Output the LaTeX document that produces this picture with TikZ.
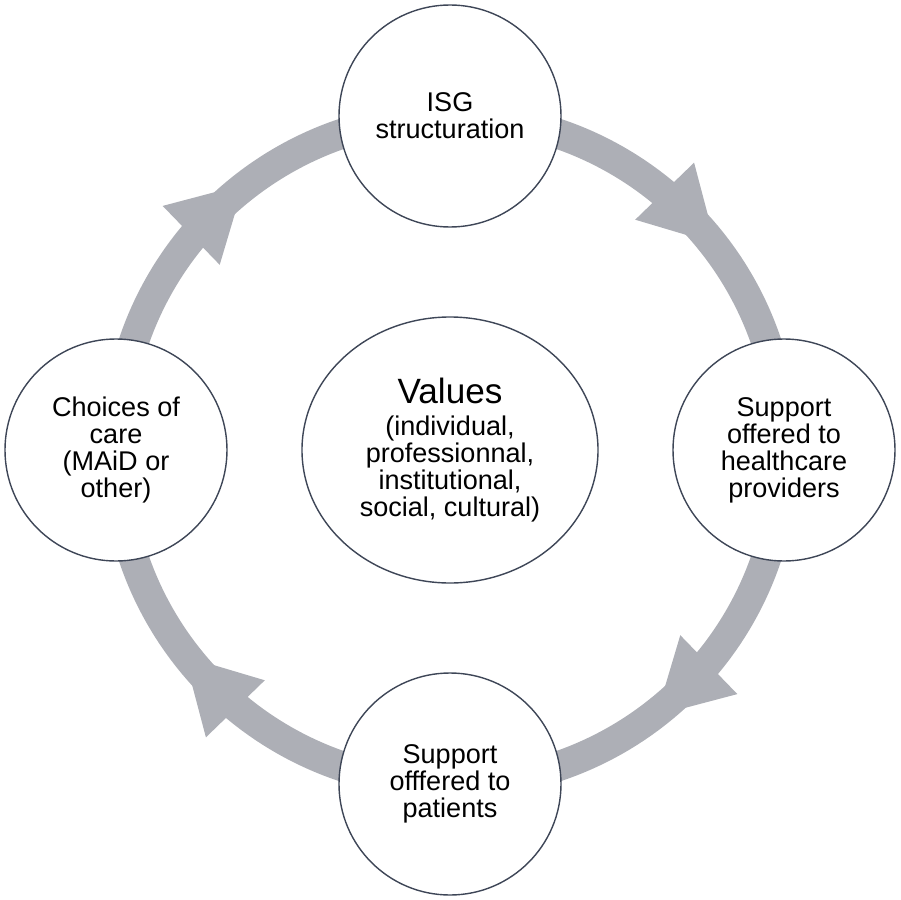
\documentclass[tikz,border=0pt]{standalone}
\usepackage{fontspec}
\setmainfont{Liberation Sans}
\usepackage{tikz}
\usetikzlibrary{positioning,shapes.geometric,decorations.markings,backgrounds}
\definecolor{ringgrey}{HTML}{ADAFB6}
\definecolor{rimblue}{HTML}{3E4657}

\begin{document}
\begin{tikzpicture}[
    stage/.style={circle, draw=rimblue, fill=white, line width=0.8pt, minimum size=4.44cm, inner sep=0pt, align=center, font=\fontsize{15.4}{15.4}\selectfont},
    core/.style={ellipse, draw=rimblue, fill=white, line width=0.8pt, minimum width=5.92cm, minimum height=5.32cm, inner sep=0pt, align=center, font=\fontsize{15.4}{15.4}\selectfont},
    ring/.style={draw=ringgrey, line width=0.6cm, postaction={decorate},
        decoration={markings, mark=at position 0.51 with {\fill[ringgrey] (0.73,0) -- (-0.73,0.82) -- (-0.73,-0.82) -- cycle;}}}
]
    \useasboundingbox (-9.0,-8.98) rectangle (9.02,9.0);

    % Stages of the cycle
    \node[stage] (isg) at (0,6.68) {ISG\\structuration};
    \node[stage] (sup) at (6.68,0) {Support\\offered to\\healthcare\\providers};
    \node[stage] (pat) at (0,-6.68) {Support\\offfered to\\patients};
    \node[stage] (cho) at (-6.68,0) {Choices of\\care\\(MAiD or\\other)};

    % Centre
    \node[core] (val) at (0,0) {{\fontsize{20}{20}\selectfont Values}\\[3pt](individual,\\professionnal,\\institutional,\\social, cultural)};

    % Grey ring with arrows
    \begin{scope}[on background layer]
        \draw[ring] (isg.center) to[bend left=45] (sup.center);
        \draw[ring] (sup.center) to[bend left=45] (pat.center);
        \draw[ring] (pat.center) to[bend left=45] (cho.center);
        \draw[ring] (cho.center) to[bend left=45] (isg.center);
    \end{scope}
\end{tikzpicture}
\end{document}
